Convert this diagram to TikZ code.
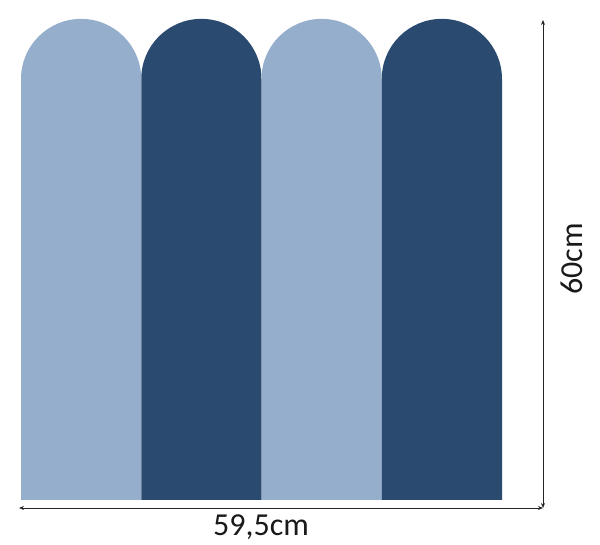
\documentclass[tikz,border=0pt]{standalone}
\usepackage{fontspec}
\setmainfont{Carlito}
\usepackage{tikz}
\usetikzlibrary{arrows.meta, calc}
\definecolor{panellight}{RGB}{148,174,203}
\definecolor{paneldark}{RGB}{43,74,112}
\tikzset{
  dimline/.style={{Stealth[length=5pt,width=4pt]}-{Stealth[length=5pt,width=4pt]}, line width=0.9pt, color=black!85},
  dimlabel/.style={inner sep=0pt, anchor=base, font=\fontsize{32}{38}\selectfont, color=black!90}
}

\begin{document}
\begin{tikzpicture}[x=1pt, y=1pt]
\useasboundingbox (0,0) rectangle (600,545);
\coordinate (corner) at (543,37);
\coordinate (left) at (19,37);
\coordinate (top) at (543,525);


% panels, light and dark in turn
\foreach \i/\col in {0/panellight, 1/paneldark, 2/panellight, 3/paneldark}{
  \fill[\col] ({21+120.25*\i},45) -- ({21+120.25*\i},466)
    arc (180:0:60.125) -- ({21+120.25*(\i+1)},45) -- cycle;
}


\draw[dimline] (left) -- (corner);
\draw[dimline] (corner) -- (top);
\node[dimlabel] (width) at (261,9) {59,5cm};
\node[dimlabel, rotate=90] (height) at (582,286) {60cm};

\end{tikzpicture}
\end{document}
